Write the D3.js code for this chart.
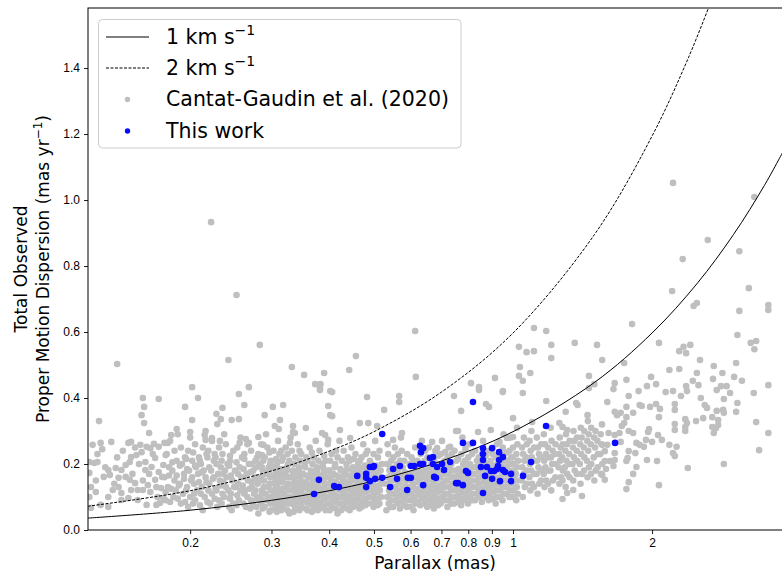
<!DOCTYPE html>
<html>
<head>
<meta charset="utf-8">
<style>
  body { margin: 0; background: #fff; font-family: "DejaVu Sans", sans-serif; }
  svg { display: block; }
  .tick-label { font-size: 12px; fill: #000; }
  .axis-title { font-size: 17px; fill: #000; }
  .legend-text { font-size: 20.5px; fill: #000; }
</style>
</head>
<body>
<script src="https://d3js.org/d3.v7.min.js"></script>
<script>

// Cantat-Gaudin et al. (2020) clusters: [parallax (mas), total PM dispersion (mas/yr)]
var cantatGaudin = [
  // outliers, left half
  [.222,.933],[.252,.712],[.614,.603],[.283,.561],[.139,.503],[.242,.515],[.457,.527],[.332,.494],
  [.353,.470],[.390,.476],[.442,.485],[.373,.442],[.383,.442],[.382,.430],[.402,.421],[.616,.464],
  [.202,.433],[.208,.400],[.268,.433],[.255,.412],[.158,.400],[.171,.397],[.483,.403],[.567,.406],
  [.811,.445],[.844,.433],[.844,.424],[.914,.461],[.951,.421],[.745,.406],
  [.159,.373],[.157,.348],[.159,.324],[.163,.294],[.127,.330],
  [.195,.373],[.202,.333],[.200,.297],[.187,.306],[.182,.288],[.179,.264],
  [.262,.379],[.235,.370],[.228,.352],[.233,.336],[.229,.321],[.246,.333],[.255,.336],
  [.215,.288],[.216,.273],[.223,.279],[.232,.270],[.256,.264],[.264,.276],[.268,.264],[.281,.282],
  [.302,.373],[.318,.379],[.290,.348],[.313,.333],[.334,.315],[.334,.297],[.337,.294],[.382,.424],
  [.406,.418],[.398,.376],[.402,.348],[.406,.345],[.466,.324],[.486,.324],[.526,.364],[.575,.294],
  [.550,.273],[.508,.315],[.386,.294],[.392,.288],[.398,.273],[.422,.303],[.444,.279],[.305,.315],
  [.329,.264],[.288,.258],[.286,.227],[.567,.388],[.311,.306],[.356,.309],
  [.772,.361],[.874,.382],[.887,.373],[.668,.267],[.685,.248],[.713,.236],[.731,.252],
  [.753,.300],[.760,.300],[.840,.297],[.895,.303],[.935,.267],[.970,.279],[1.00,.282],[1.00,.339],
  // outliers, right half
  [2.22,1.052],[3.33,1.009],[2.64,.879],[3.09,.845],[2.33,.821],[3.24,.733],[2.21,.724],
  [2.46,.679],[2.50,.688],[3.57,.682],[3.57,.667],[3.09,.664],[1.81,.624],[3.06,.591],
  [1.11,.612],[1.18,.603],[1.03,.555],[1.07,.539],[1.11,.542],[1.21,.561],[1.21,.521],
  [1.36,.567],[1.52,.561],[1.56,.515],[1.74,.506],[2.07,.567],[2.29,.542],[2.34,.555],
  [2.42,.561],[2.37,.536],[2.54,.515],[3.27,.567],[3.36,.573],[3.33,.548],[3.04,.506],
  [1.035,.494],[1.03,.467],[1.05,.452],[1.09,.476],[.95,.418],[1.05,.415],[1.46,.467],
  [1.66,.445],[1.46,.430],[1.50,.442],[1.65,.427],[1.76,.455],[1.99,.464],[2.18,.485],
  [2.29,.488],[2.50,.476],[2.72,.497],[2.84,.476],[3.01,.464],[3.13,.452],[2.71,.458],
  [2.45,.452],[2.37,.436],[2.52,.439],[2.82,.436],[2.90,.436],[2.76,.424],[2.95,.415],
  [3.32,.415],[3.57,.439],[2.38,.421],[1.95,.436],[2.04,.442],[1.87,.421],[1.78,.406],
  [2.14,.418],[2.22,.421],[2.31,.406],[2.55,.400],
  [1.18,.391],[1.37,.385],[1.38,.379],[1.60,.388],[1.88,.379],[1.90,.376],[1.98,.373],
  [2.04,.382],[2.08,.367],[2.07,.342],[2.24,.382],[2.24,.364],[2.36,.336],[2.38,.324],
  [2.36,.312],[2.49,.330],[2.58,.339],[2.60,.379],[2.63,.370],[2.86,.397],[2.76,.361],
  [2.85,.364],[2.86,.355],[2.78,.318],[2.75,.309],[2.72,.294],[3.06,.385],[3.04,.358],
  [3.36,.327],[3.57,.294],[3.41,.242],[2.86,.200],[2.39,.188],[2.07,.136],[1.76,.124],
  [1.78,.145],[1.41,.103],[1.35,.121],[1.28,.094],[1.31,.112],
  [2.70,.342],[2.78,.333],[2.70,.312],[2.36,.300],[2.24,.321],[2.24,.303],
  [1.76,.373],[1.82,.355],[1.66,.358],[1.68,.348],[1.71,.355],[1.76,.342],[1.74,.324],
  [1.78,.300],[1.82,.294],[1.97,.306],[1.96,.297],[2.06,.288],[2.10,.273],[2.18,.258],
  [2.26,.252],[2.22,.233],[2.24,.224],[1.94,.273],[2.00,.267],[2.05,.209],[1.95,.212],
  [1.85,.264],[1.88,.258],[1.92,.252],[1.84,.233],[1.78,.239],[1.76,.209],[1.77,.218],
  [1.85,.191],[1.82,.170],[1.72,.315],[1.70,.294],[1.71,.267],[1.66,.288],[1.61,.294],
  [1.66,.233],[1.66,.212],[1.65,.194],[1.62,.209],[1.58,.209],[1.59,.185],[1.56,.167],
  [1.58,.152],[1.60,.258],[1.58,.239],[1.56,.258],
  [1.26,.324],[1.28,.312],[1.31,.303],[1.45,.348],[1.30,.358],[1.10,.327],
  // band, parallax 0.12 - 0.18
  [.123,.258],[.128,.264],[.135,.267],[.129,.245],[.121,.206],[.124,.203],[.126,.206],[.133,.182],
  [.138,.188],[.142,.182],[.145,.197],[.148,.206],[.149,.221],[.153,.227],[.157,.236],[.147,.264],
  [.149,.267],[.156,.258],[.161,.252],[.164,.248],[.167,.261],[.171,.252],[.176,.264],[.121,.173],
  [.130,.161],[.134,.167],[.140,.158],[.145,.161],[.148,.152],[.152,.142],[.154,.121],[.158,.121],
  [.164,.115],[.169,.130],[.173,.127],[.122,.130],[.125,.115],[.121,.100],[.133,.100],[.136,.121],
  [.140,.130],[.142,.112],[.147,.097],[.149,.121],[.128,.076],[.133,.070],[.122,.067],[.142,.091],
  [.154,.091],[.161,.076],[.169,.076],[.172,.082],[.175,.097],[.177,.115],[.162,.136],[.168,.152],
  [.174,.161],[.160,.182],[.165,.191],[.171,.176],[.175,.197],[.168,.218],[.177,.227],[.160,.206],
  [.125,.150],[.131,.190],[.137,.140],[.143,.240],[.150,.170],[.155,.200],[.158,.150],[.163,.170],
  [.166,.230],[.170,.100],[.126,.230],[.139,.220],[.152,.250],
  // band, parallax 0.18 - 0.28
  [.177,.09],[.179,.13],[.176,.16],[.180,.19],[.178,.23],[.181,.27],
  [.184,.10],[.186,.12],[.185,.15],[.183,.18],[.187,.21],[.185,.24],[.188,.29],
  [.191,.08],[.193,.11],[.190,.14],[.194,.17],[.192,.20],[.195,.22],[.191,.25],
  [.198,.07],[.200,.10],[.197,.13],[.201,.15],[.199,.18],[.202,.21],[.198,.24],[.200,.28],
  [.205,.09],[.207,.12],[.204,.14],[.208,.17],[.206,.19],[.209,.22],[.205,.26],
  [.213,.06],[.215,.10],[.212,.13],[.216,.16],[.214,.18],[.211,.20],[.217,.23],[.213,.25],[.216,.30],
  [.221,.08],[.223,.11],[.220,.14],[.224,.155],[.222,.18],[.225,.21],[.219,.24],[.223,.27],
  [.229,.07],[.231,.09],[.228,.12],[.232,.15],[.230,.17],[.233,.19],[.227,.22],[.231,.25],
  [.237,.10],[.239,.13],[.236,.145],[.240,.16],[.238,.18],[.241,.20],[.235,.23],[.239,.26],[.237,.29],
  [.246,.06],[.248,.08],[.245,.11],[.249,.13],[.247,.15],[.250,.18],[.244,.21],[.248,.24],
  [.255,.09],[.257,.12],[.254,.14],[.258,.16],[.256,.19],[.259,.22],[.253,.25],[.257,.28],
  [.264,.07],[.266,.10],[.263,.12],[.267,.15],[.265,.17],[.268,.20],[.262,.23],[.266,.26],
  [.273,.08],[.275,.11],[.272,.13],[.276,.16],[.274,.18],[.277,.21],[.271,.24],
  [.181,.085],[.182,.125],[.180,.165],[.183,.205],
  [.188,.095],[.189,.135],[.187,.165],[.190,.195],
  [.195,.085],[.196,.12],[.194,.155],[.197,.185],[.196,.215],
  [.203,.08],[.204,.11],[.202,.16],[.205,.195],[.203,.235],
  [.210,.075],[.211,.11],[.209,.145],[.212,.175],[.210,.21],
  [.218,.085],[.219,.12],[.217,.145],[.220,.19],[.218,.22],
  [.226,.095],[.227,.125],[.225,.16],[.228,.20],[.226,.23],
  [.234,.08],[.235,.11],[.233,.135],[.236,.17],[.234,.21],
  [.243,.07],[.244,.095],[.242,.12],[.245,.165],[.243,.195],[.244,.225],
  [.252,.075],[.253,.105],[.251,.13],[.254,.17],[.252,.205],
  [.261,.08],[.262,.11],[.260,.135],[.263,.16],[.261,.185],[.262,.215],
  [.270,.065],[.271,.09],[.269,.125],[.272,.145],[.270,.175],[.271,.20],
  [.278,.07],[.279,.095],[.277,.12],[.280,.155],[.278,.19],[.279,.22],
  // band, parallax 0.28 - 0.52
  [.281,.05],[.285,.08],[.282,.10],[.286,.12],[.280,.14],[.284,.16],[.287,.18],[.283,.20],[.281,.23],[.285,.26],
  [.290,.07],[.294,.09],[.291,.11],[.295,.13],[.289,.15],[.293,.17],[.296,.19],[.290,.22],[.294,.25],[.292,.29],
  [.299,.06],[.303,.08],[.300,.10],[.304,.12],[.298,.14],[.302,.165],[.305,.185],[.299,.21],[.303,.24],
  [.308,.055],[.312,.075],[.309,.095],[.313,.115],[.307,.135],[.311,.155],[.314,.175],[.308,.20],[.312,.23],[.310,.27],
  [.318,.07],[.322,.09],[.319,.11],[.323,.13],[.317,.15],[.321,.17],[.324,.19],[.318,.22],[.322,.25],
  [.328,.05],[.332,.08],[.329,.10],[.333,.12],[.327,.14],[.331,.16],[.334,.18],[.328,.21],[.332,.24],[.330,.28],
  [.338,.065],[.342,.085],[.339,.105],[.343,.125],[.337,.145],[.341,.165],[.344,.19],[.338,.22],[.342,.26],
  [.348,.07],[.352,.09],[.349,.11],[.353,.13],[.347,.15],[.351,.17],[.354,.20],[.348,.23],
  [.359,.06],[.363,.08],[.360,.10],[.364,.12],[.358,.14],[.362,.16],[.365,.18],[.359,.21],[.363,.25],
  [.370,.07],[.374,.09],[.371,.11],[.375,.13],[.369,.15],[.373,.17],[.376,.19],[.370,.22],[.374,.27],
  [.381,.065],[.385,.085],[.382,.105],[.386,.125],[.380,.145],[.384,.165],[.387,.20],[.381,.24],
  [.393,.06],[.397,.08],[.394,.10],[.398,.12],[.392,.14],[.396,.16],[.399,.18],[.393,.21],[.397,.26],
  [.405,.07],[.409,.09],[.406,.11],[.410,.13],[.404,.15],[.408,.17],[.411,.19],[.405,.23],
  [.417,.05],[.421,.08],[.418,.10],[.422,.12],[.416,.14],[.420,.16],[.423,.185],[.417,.22],[.421,.27],
  [.430,.07],[.434,.09],[.431,.11],[.435,.13],[.429,.15],[.433,.17],[.436,.20],[.430,.24],
  [.443,.06],[.447,.08],[.444,.10],[.448,.12],[.442,.14],[.446,.16],[.449,.18],[.443,.21],[.447,.25],
  [.456,.075],[.460,.095],[.457,.115],[.461,.135],[.455,.155],[.459,.175],[.462,.20],[.456,.23],
  [.470,.07],[.474,.09],[.471,.11],[.475,.13],[.469,.15],[.473,.17],[.476,.19],[.470,.22],[.474,.26],
  [.484,.08],[.488,.10],[.485,.12],[.489,.14],[.483,.16],[.487,.18],[.490,.21],[.484,.24],
  [.499,.07],[.503,.09],[.500,.11],[.504,.13],[.498,.15],[.502,.17],[.505,.19],[.499,.23],[.503,.27],
  [.514,.08],[.518,.10],[.515,.12],[.519,.14],[.513,.16],[.517,.18],[.520,.20],[.514,.24],
  [.287,.065],[.288,.09],[.286,.11],[.289,.13],[.287,.15],[.288,.17],[.286,.19],[.288,.21],
  [.297,.055],[.298,.08],[.296,.10],[.299,.12],[.297,.14],[.298,.16],[.296,.18],[.298,.20],[.297,.235],
  [.306,.065],[.307,.085],[.305,.11],[.308,.13],[.306,.15],[.307,.17],[.305,.19],[.307,.215],
  [.315,.06],[.316,.085],[.314,.105],[.317,.125],[.315,.145],[.316,.165],[.314,.185],[.316,.21],[.315,.24],
  [.325,.06],[.326,.08],[.324,.10],[.327,.12],[.325,.14],[.326,.16],[.324,.18],[.326,.20],[.325,.23],
  [.335,.055],[.336,.075],[.334,.095],[.337,.115],[.335,.135],[.336,.155],[.334,.175],[.336,.20],
  [.345,.06],[.346,.08],[.344,.10],[.347,.12],[.345,.14],[.346,.16],[.344,.18],[.346,.21],[.345,.24],
  [.356,.065],[.357,.085],[.355,.105],[.358,.125],[.356,.145],[.357,.165],[.355,.19],[.357,.22],
  [.367,.055],[.368,.075],[.366,.095],[.369,.115],[.367,.135],[.368,.155],[.366,.175],[.368,.20],[.367,.235],
  [.378,.06],[.379,.08],[.377,.10],[.380,.12],[.378,.14],[.379,.16],[.377,.18],[.379,.21],
  [.389,.07],[.390,.095],[.388,.115],[.391,.135],[.389,.155],[.390,.175],[.388,.19],[.390,.225],
  [.401,.06],[.402,.08],[.400,.10],[.403,.12],[.401,.14],[.402,.16],[.400,.18],[.402,.21],
  [.413,.065],[.414,.085],[.412,.105],[.415,.125],[.413,.145],[.414,.165],[.412,.20],[.414,.24],
  [.425,.06],[.426,.08],[.424,.10],[.427,.12],[.425,.14],[.426,.16],[.424,.18],[.426,.21],
  [.438,.065],[.439,.085],[.437,.105],[.440,.125],[.438,.145],[.439,.165],[.437,.185],[.439,.22],
  [.451,.07],[.452,.09],[.450,.11],[.453,.13],[.451,.15],[.452,.17],[.450,.19],[.452,.215],
  [.465,.065],[.466,.085],[.464,.105],[.467,.125],[.465,.145],[.466,.165],[.464,.185],[.466,.21],
  [.479,.075],[.480,.095],[.478,.115],[.481,.135],[.479,.155],[.480,.175],[.478,.195],[.480,.23],
  [.494,.08],[.495,.10],[.493,.12],[.496,.14],[.494,.16],[.495,.18],[.493,.20],
  [.509,.075],[.510,.095],[.508,.115],[.511,.135],[.509,.155],[.510,.175],[.508,.195],[.510,.22],
  // band, parallax 0.52 - 1.03
  [.532,.06],[.538,.08],[.534,.10],[.539,.12],[.531,.14],[.536,.16],[.540,.18],[.533,.20],[.537,.23],[.535,.26],
  [.550,.07],[.556,.09],[.552,.11],[.557,.13],[.549,.15],[.554,.17],[.558,.19],[.551,.22],[.555,.25],
  [.569,.065],[.575,.085],[.571,.105],[.576,.125],[.568,.145],[.573,.165],[.577,.19],[.570,.21],[.574,.24],[.572,.28],
  [.589,.07],[.595,.09],[.591,.11],[.596,.13],[.588,.15],[.593,.17],[.597,.20],[.590,.23],
  [.609,.06],[.615,.08],[.611,.10],[.616,.12],[.608,.14],[.613,.16],[.617,.18],[.610,.21],[.614,.25],
  [.630,.075],[.636,.095],[.632,.115],[.637,.135],[.629,.155],[.634,.175],[.638,.20],[.631,.23],[.635,.27],
  [.652,.07],[.658,.09],[.654,.11],[.659,.13],[.651,.15],[.656,.17],[.660,.19],[.653,.22],[.657,.25],
  [.674,.065],[.680,.085],[.676,.105],[.681,.125],[.673,.145],[.678,.165],[.682,.185],[.675,.21],[.679,.24],
  [.697,.08],[.703,.10],[.699,.12],[.704,.14],[.696,.16],[.701,.18],[.705,.20],[.698,.23],[.702,.27],
  [.721,.07],[.727,.09],[.723,.11],[.728,.13],[.720,.15],[.725,.17],[.729,.19],[.722,.22],[.726,.25],
  [.746,.08],[.752,.10],[.748,.12],[.753,.14],[.745,.16],[.750,.18],[.754,.21],[.747,.24],
  [.772,.075],[.778,.095],[.774,.115],[.779,.135],[.771,.155],[.776,.175],[.780,.20],[.773,.23],[.777,.28],
  [.799,.08],[.805,.10],[.801,.12],[.806,.14],[.798,.16],[.803,.18],[.807,.20],[.800,.22],[.804,.26],
  [.827,.09],[.833,.11],[.829,.13],[.834,.15],[.826,.17],[.831,.19],[.835,.21],[.828,.24],
  [.856,.085],[.862,.105],[.858,.125],[.863,.145],[.855,.165],[.860,.185],[.864,.205],[.857,.23],[.861,.27],
  [.886,.09],[.892,.11],[.888,.13],[.893,.15],[.885,.17],[.890,.19],[.894,.21],[.887,.24],
  [.917,.08],[.923,.10],[.919,.12],[.924,.14],[.916,.16],[.921,.18],[.925,.20],[.918,.22],[.922,.26],
  [.949,.09],[.955,.11],[.951,.13],[.956,.15],[.948,.17],[.953,.19],[.957,.21],[.950,.25],[.954,.29],
  [.982,.10],[.988,.12],[.984,.14],[.989,.16],[.981,.18],[.986,.20],[.990,.22],[.983,.24],[.987,.28],
  [1.016,.09],[1.024,.11],[1.019,.13],[1.025,.15],[1.014,.17],[1.021,.19],[1.026,.21],[1.017,.23],[1.022,.26],[1.020,.31],
  [.544,.07],[.545,.09],[.543,.11],[.546,.13],[.544,.15],[.545,.17],[.543,.19],[.545,.21],
  [.562,.08],[.563,.10],[.561,.12],[.564,.14],[.562,.16],[.563,.18],[.561,.20],[.563,.23],
  [.582,.075],[.583,.095],[.581,.115],[.584,.135],[.582,.155],[.583,.175],[.581,.21],
  [.602,.07],[.603,.09],[.601,.11],[.604,.13],[.602,.15],[.603,.17],[.601,.20],[.603,.22],
  [.622,.085],[.623,.105],[.621,.125],[.624,.145],[.622,.165],[.623,.185],[.621,.21],
  [.644,.08],[.645,.10],[.643,.12],[.646,.14],[.644,.16],[.645,.18],[.643,.21],[.645,.24],
  [.666,.075],[.667,.095],[.665,.115],[.668,.135],[.666,.155],[.667,.175],[.665,.20],
  [.688,.075],[.689,.095],[.687,.115],[.690,.135],[.688,.155],[.689,.175],[.687,.20],[.689,.225],
  [.712,.09],[.713,.11],[.711,.13],[.714,.15],[.712,.17],[.713,.19],[.711,.21],
  [.736,.08],[.737,.10],[.735,.12],[.738,.14],[.736,.16],[.737,.18],[.735,.20],[.737,.23],
  [.762,.085],[.763,.105],[.761,.125],[.764,.145],[.762,.165],[.763,.185],[.761,.215],
  [.788,.09],[.789,.11],[.787,.13],[.790,.15],[.788,.17],[.789,.19],[.787,.21],[.789,.245],
  [.816,.09],[.817,.11],[.815,.13],[.818,.15],[.816,.17],[.817,.19],[.815,.23],
  [.844,.10],[.845,.12],[.843,.14],[.846,.16],[.844,.18],[.845,.20],[.843,.22],
  [.874,.10],[.875,.12],[.873,.14],[.876,.16],[.874,.18],[.875,.20],[.873,.225],
  [.904,.095],[.905,.115],[.903,.135],[.906,.155],[.904,.175],[.905,.195],[.903,.23],
  [.936,.10],[.937,.12],[.935,.14],[.938,.16],[.936,.18],[.937,.20],[.935,.23],
  [.968,.11],[.969,.13],[.967,.15],[.970,.17],[.968,.19],[.969,.21],[.967,.235],
  [1.00,.10],[1.001,.12],[.999,.14],[1.002,.16],[1.0,.18],[1.001,.20],[.999,.22],[1.0,.25],
  // band, parallax 1.03 - 1.56
  [1.05,.10],[1.06,.13],[1.045,.15],[1.055,.17],[1.048,.19],[1.058,.21],[1.052,.23],[1.046,.25],[1.056,.28],
  [1.09,.12],[1.10,.14],[1.085,.16],[1.095,.18],[1.088,.20],[1.098,.22],[1.092,.24],[1.086,.27],[1.096,.30],
  [1.13,.11],[1.14,.14],[1.125,.17],[1.135,.19],[1.128,.21],[1.138,.23],[1.132,.25],[1.126,.28],
  [1.17,.13],[1.18,.15],[1.165,.17],[1.175,.19],[1.168,.21],[1.178,.23],[1.172,.26],[1.166,.29],
  [1.21,.12],[1.22,.15],[1.205,.18],[1.215,.20],[1.208,.22],[1.218,.24],[1.212,.27],[1.206,.31],
  [1.26,.14],[1.27,.16],[1.255,.19],[1.265,.21],[1.258,.23],[1.268,.25],[1.262,.28],
  [1.30,.13],[1.31,.17],[1.295,.19],[1.305,.21],[1.298,.24],[1.308,.26],[1.302,.29],
  [1.35,.15],[1.36,.18],[1.345,.20],[1.355,.22],[1.348,.25],[1.358,.27],[1.352,.30],
  [1.40,.14],[1.41,.17],[1.395,.20],[1.405,.23],[1.398,.26],[1.408,.28],[1.402,.31],
  [1.45,.16],[1.46,.19],[1.445,.21],[1.455,.24],[1.448,.27],[1.458,.29],[1.452,.33],
  [1.50,.15],[1.51,.18],[1.495,.22],[1.505,.25],[1.498,.28],[1.508,.30],
  [1.55,.17],[1.56,.20],[1.545,.23],[1.555,.26],[1.548,.29],[1.558,.32],
  [1.07,.14],[1.072,.18],[1.068,.22],[1.071,.26],
  [1.11,.13],[1.112,.17],[1.108,.21],[1.111,.25],
  [1.15,.15],[1.152,.18],[1.148,.22],[1.151,.26],
  [1.19,.14],[1.192,.18],[1.188,.22],[1.191,.25],
  [1.235,.16],[1.237,.20],[1.233,.23],[1.236,.26],
  [1.28,.15],[1.282,.18],[1.278,.22],[1.281,.26],
  [1.325,.16],[1.327,.20],[1.323,.23],[1.326,.27],
  [1.375,.17],[1.377,.21],[1.373,.24],[1.376,.28],
  [1.425,.18],[1.427,.22],[1.423,.25],[1.426,.30],
  [1.475,.17],[1.477,.20],[1.473,.26],[1.476,.31],
  [1.525,.19],[1.527,.23],[1.523,.27]
];

// This work
var thisWork = [
  [.371,.109],[.380,.152],[.410,.133],[.420,.130],[.460,.164],[.481,.170],[.481,.158],[.481,.130],
  [.490,.191],[.498,.191],[.500,.194],[.490,.148],[.503,.155],[.521,.291],[.521,.158],[.542,.130],
  [.550,.185],[.561,.155],[.569,.194],[.590,.121],[.592,.158],[.601,.158],[.601,.194],[.611,.194],
  [.629,.255],[.639,.248],[.632,.236],[.629,.200],[.639,.200],[.639,.136],[.661,.218],[.671,.221],
  [.671,.200],[.675,.161],[.681,.158],[.685,.191],[.702,.200],[.709,.182],[.731,.206],[.779,.264],
  [.819,.264],[.791,.179],[.799,.173],[.753,.142],[.760,.142],[.779,.136],[.861,.248],[.861,.230],
  [.861,.212],[.901,.248],[.933,.236],[.933,.212],[.928,.194],[.951,.221],[.951,.182],[.852,.191],
  [.878,.191],[.870,.164],[.896,.179],[.910,.179],[.923,.185],[.901,.155],[.937,.148],[.961,.176],
  [.990,.170],[.990,.148],[1.051,.164],[1.094,.206],[.861,.112],[.819,.388],[1.179,.315],[1.663,.264]
];

// model curves
var curve1Parallax = [0.12, 0.2, 0.3, 0.4, 0.5, 0.7, 1.0, 1.5, 2.0, 2.5, 3.0, 3.5, 3.85];
var curve1Disp     = [0.036, 0.060, 0.090, 0.119, 0.149, 0.209, 0.298, 0.447, 0.597, 0.746, 0.895, 1.044, 1.149];
var curve2Parallax = [0.12, 0.2, 0.3, 0.4, 0.5, 0.7, 1.0, 1.5, 2.0, 2.4, 2.7];
var curve2Disp     = [0.072, 0.119, 0.179, 0.239, 0.298, 0.418, 0.597, 0.895, 1.194, 1.433, 1.612];

var xTicks = [0.2, 0.3, 0.4, 0.5, 0.6, 0.7, 0.8, 0.9, 1, 2];
var xTickLabels = ["0.2", "0.3", "0.4", "0.5", "0.6", "0.7", "0.8", "0.9", "1", "2"];
var yTicks = [0, 0.2, 0.4, 0.6, 0.8, 1.0, 1.2, 1.4];

var W = 782, H = 572,
    plotLeft = 88, plotRight = 782, plotTop = 8, plotBottom = 530;

var svg = d3.select("body").append("svg")
    .attr("width", W).attr("height", H);

var x = d3.scaleLog().domain([0.1202, 3.822]).range([plotLeft, plotRight]);
var y = d3.scaleLinear().domain([0, 1.582]).range([plotBottom, plotTop]);

svg.append("clipPath").attr("id", "plot-clip")
  .append("rect").attr("x", plotLeft).attr("y", plotTop)
    .attr("width", plotRight - plotLeft).attr("height", plotBottom - plotTop);

var plot = svg.append("g").attr("clip-path", "url(#plot-clip)");

plot.append("g").selectAll("circle")
    .data(cantatGaudin)
  .enter().append("circle")
    .attr("cx", function(d) { return x(d[0]); })
    .attr("cy", function(d) { return y(d[1]); })
    .attr("r", 3.3)
    .attr("fill", "#bfbfbf");

var line = d3.line()
    .x(function(d) { return x(d[0]); })
    .y(function(d) { return y(d[1]); })
    .curve(d3.curveCatmullRom);

plot.append("path")
    .attr("d", line(d3.zip(curve1Parallax, curve1Disp)))
    .attr("fill", "none").attr("stroke", "#000").attr("stroke-width", 1);

plot.append("path")
    .attr("d", line(d3.zip(curve2Parallax, curve2Disp)))
    .attr("fill", "none").attr("stroke", "#000").attr("stroke-width", 1)
    .attr("stroke-dasharray", "3,1.5");

plot.append("g").selectAll("circle")
    .data(thisWork)
  .enter().append("circle")
    .attr("cx", function(d) { return x(d[0]); })
    .attr("cy", function(d) { return y(d[1]); })
    .attr("r", 3.3)
    .attr("fill", "#0a0aff");

// axes
var xAxis = svg.append("g").attr("transform", "translate(0," + plotBottom + ")")
    .call(d3.axisBottom(x).tickValues(xTicks)
      .tickFormat(function(d, i) { return xTickLabels[i]; })
      .tickSize(4).tickPadding(4));
var yAxis = svg.append("g").attr("transform", "translate(" + plotLeft + ",0)")
    .call(d3.axisLeft(y).tickValues(yTicks)
      .tickFormat(d3.format(".1f")).tickSize(4).tickPadding(4));

[xAxis, yAxis].forEach(function(a) {
  a.select(".domain").remove();
  a.selectAll(".tick line").attr("stroke", "#000").attr("stroke-width", 0.9);
  a.selectAll(".tick text").attr("class", "tick-label")
    .attr("font-family", null).attr("font-size", null);
});

// spines
svg.append("rect")
    .attr("x", plotLeft).attr("y", plotTop)
    .attr("width", plotRight - plotLeft + 4).attr("height", plotBottom - plotTop)
    .attr("fill", "none").attr("stroke", "#000").attr("stroke-width", 1);

svg.append("text").attr("class", "axis-title")
    .attr("x", (plotLeft + plotRight) / 2).attr("y", 569)
    .attr("text-anchor", "middle").text("Parallax (mas)");

svg.append("text").attr("class", "axis-title")
    .attr("transform", "translate(27," + ((plotTop + plotBottom) / 2) + ") rotate(-90)")
    .attr("text-anchor", "middle").text("Total Observed");

var yl = svg.append("text").attr("class", "axis-title")
    .attr("transform", "translate(49," + ((plotTop + plotBottom) / 2) + ") rotate(-90)")
    .attr("text-anchor", "middle");
yl.append("tspan").text("Proper Motion Dispersion (mas yr");
yl.append("tspan").attr("dy", -7).attr("font-size", "12px").text("\u22121");
yl.append("tspan").attr("dy", 7).text(")");

// legend
var legend = svg.append("g");
legend.append("rect")
    .attr("x", 98.5).attr("y", 19.5).attr("width", 362.5).attr("height", 128.5)
    .attr("rx", 4).attr("fill", "#fff").attr("fill-opacity", 0.8)
    .attr("stroke", "#ccc").attr("stroke-width", 1);

var rows = [37, 68, 99.5, 131];
legend.append("line").attr("x1", 106).attr("x2", 149).attr("y1", rows[0]).attr("y2", rows[0])
    .attr("stroke", "#000").attr("stroke-width", 1);
legend.append("line").attr("x1", 106).attr("x2", 149).attr("y1", rows[1]).attr("y2", rows[1])
    .attr("stroke", "#000").attr("stroke-width", 1).attr("stroke-dasharray", "3,1.5");
legend.append("circle").attr("cx", 127.5).attr("cy", rows[2]).attr("r", 2.7).attr("fill", "#bfbfbf");
legend.append("circle").attr("cx", 127.5).attr("cy", rows[3]).attr("r", 2.7).attr("fill", "#0a0aff");

["1 km s", "2 km s"].forEach(function(t, i) {
  var tx = legend.append("text").attr("class", "legend-text")
      .attr("x", 166).attr("y", rows[i] + 6.5);
  tx.append("tspan").text(t);
  tx.append("tspan").attr("dy", -9).attr("font-size", "14px").text("\u22121");
});
legend.append("text").attr("class", "legend-text")
    .attr("x", 166).attr("y", rows[2] + 6.5).text("Cantat-Gaudin et al. (2020)");
legend.append("text").attr("class", "legend-text")
    .attr("x", 166).attr("y", rows[3] + 6.5).text("This work");

</script>
</body>
</html>
